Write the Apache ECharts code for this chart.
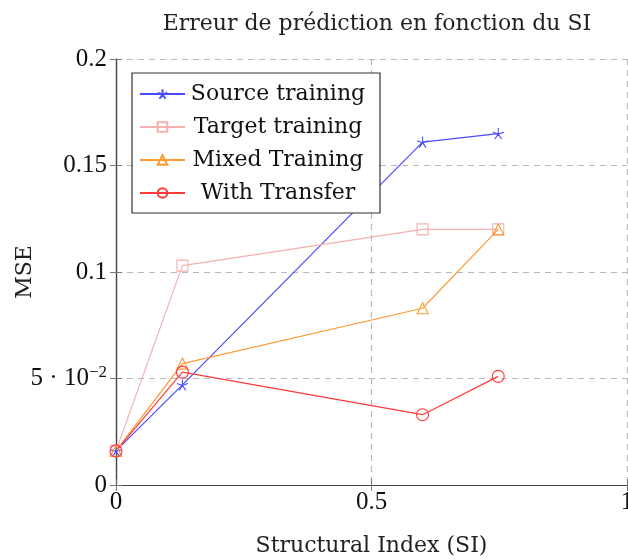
<!DOCTYPE html>
<html>
<head>
<meta charset="utf-8">
<script src="https://cdn.jsdelivr.net/npm/echarts@6/dist/echarts.min.js"></script>
<style>
  html, body { margin: 0; padding: 0; background: #fff; }
  #chart { width: 628px; height: 560px; }
</style>
</head>
<body>
<div id="chart"></div>
<script>
// Structural index values at which each model was evaluated
const siValues = [0, 0.13, 0.6, 0.748];

// Mean squared error per training strategy
const sourceTraining = [0.016, 0.047, 0.161, 0.165];
const targetTraining = [0.016, 0.103, 0.120, 0.120];
const mixedTraining  = [0.016, 0.057, 0.083, 0.120];
const withTransfer   = [0.016, 0.053, 0.033, 0.051];

const seriesNames = ['Source training', 'Target training', 'Mixed Training', 'With Transfer'];

// Y tick labels (0.05 written in scientific form)
const yTickLabels = { '0': '0', '0.05': '{m|5 · 10}{s|−2}', '0.1': '0.1', '0.15': '0.15', '0.2': '0.2' };
const xTickLabels = { '0': '0', '0.5': '0.5', '1': '1' };

const FONT = '"DejaVu Serif", serif';
const NUM_FONT = '"Liberation Serif", serif';
const starPath = 'path://M0 0 L0 -1 M0 0 L0.951 -0.309 M0 0 L0.588 0.809 M0 0 L-0.588 0.809 M0 0 L-0.951 -0.309';

function pairs(ys) { return siValues.map((x, i) => [x, ys[i]]); }

function makeSeries(name, ys, color, symbol, size) {
  return {
    name: name,
    type: 'line',
    data: pairs(ys),
    symbol: symbol,
    symbolSize: size,
    lineStyle: { color: color, width: 1.2 },
    itemStyle: { color: 'rgba(255,255,255,0)', borderColor: color, borderWidth: 1.1 },
    emphasis: { disabled: true },
    animation: false
  };
}

const gridLine = { show: true, lineStyle: { color: '#b8b8b8', type: [6, 5], width: 1.2 } };
const axisLineStyle = { show: true, lineStyle: { color: '#444', width: 1.2 } };
const tickStyle = { show: true, inside: true, length: 6, lineStyle: { color: '#777' } };

const chart = echarts.init(document.getElementById('chart'), null, { renderer: 'canvas' });
chart.setOption({
  backgroundColor: '#fff',
  animation: false,
  title: {
    text: 'Erreur de prédiction en fonction du SI',
    left: 372, top: 8, textAlign: 'center',
    textStyle: { fontFamily: FONT, fontSize: 22, fontWeight: 'normal', color: '#222' }
  },
  grid: { left: 116, right: 1, top: 59, bottom: 75, show: false, outerBoundsMode: 'none' },
  legend: {
    left: 132, top: 73, orient: 'vertical',
    data: seriesNames,
    itemWidth: 45, itemHeight: 12, itemGap: 11,
    padding: [10, 14, 9, 7],
    borderColor: '#333', borderWidth: 1.2, backgroundColor: '#fff',
    borderRadius: 0,
    selectedMode: false,
    formatter: name => '{c|' + name + '}',
    textStyle: {
      fontFamily: FONT, fontSize: 22, color: '#111', lineHeight: 22,
      rich: { c: { fontFamily: FONT, fontSize: 22, color: '#111', width: 176, align: 'center', lineHeight: 22 } }
    }
  },
  xAxis: [{
    type: 'value', min: 0, max: 1, interval: 0.5,
    name: 'Structural Index (SI)', nameLocation: 'middle', nameGap: 50,
    nameMoveOverlap: false,
    nameTextStyle: { fontFamily: FONT, fontSize: 22, color: '#222' },
    axisLine: axisLineStyle,
    axisTick: tickStyle,
    axisLabel: { fontFamily: NUM_FONT, fontSize: 25, color: '#111', margin: 5,
      formatter: v => xTickLabels[String(Math.round(v * 100) / 100)] || '' },
    splitLine: gridLine
  }, {
    type: 'value', min: 0, max: 1, interval: 0.5, position: 'top',
    axisLine: axisLineStyle,
    axisTick: tickStyle,
    axisLabel: { show: false }, splitLine: { show: false }
  }],
  yAxis: [{
    type: 'value', min: 0, max: 0.2, interval: 0.05,
    name: 'MSE', nameLocation: 'middle', nameGap: 80, nameRotate: 90,
    nameMoveOverlap: false,
    nameTextStyle: { fontFamily: FONT, fontSize: 22, color: '#222' },
    axisLine: axisLineStyle,
    axisTick: tickStyle,
    axisLabel: {
      fontFamily: NUM_FONT, fontSize: 25, color: '#111', margin: 9,
      formatter: v => yTickLabels[String(Math.round(v * 100) / 100)] || '',
      rich: {
        m: { fontFamily: NUM_FONT, fontSize: 25, color: '#111' },
        s: { fontFamily: NUM_FONT, fontSize: 17, color: '#111', verticalAlign: 'top', padding: [0, 0, 12, 0] }
      }
    },
    splitLine: gridLine
  }, {
    type: 'value', min: 0, max: 0.2, interval: 0.05, position: 'right',
    axisLine: axisLineStyle,
    axisTick: tickStyle,
    axisLabel: { show: false }, splitLine: { show: false }
  }],
  series: [
    makeSeries(seriesNames[0], sourceTraining, '#4a4aff', starPath, 11),
    makeSeries(seriesNames[1], targetTraining, '#f5b0b0', 'rect', 11),
    makeSeries(seriesNames[2], mixedTraining, '#ff9a33', 'triangle', 11),
    makeSeries(seriesNames[3], withTransfer, '#ff3a3a', 'circle', 12)
  ]
});
</script>
</body>
</html>
